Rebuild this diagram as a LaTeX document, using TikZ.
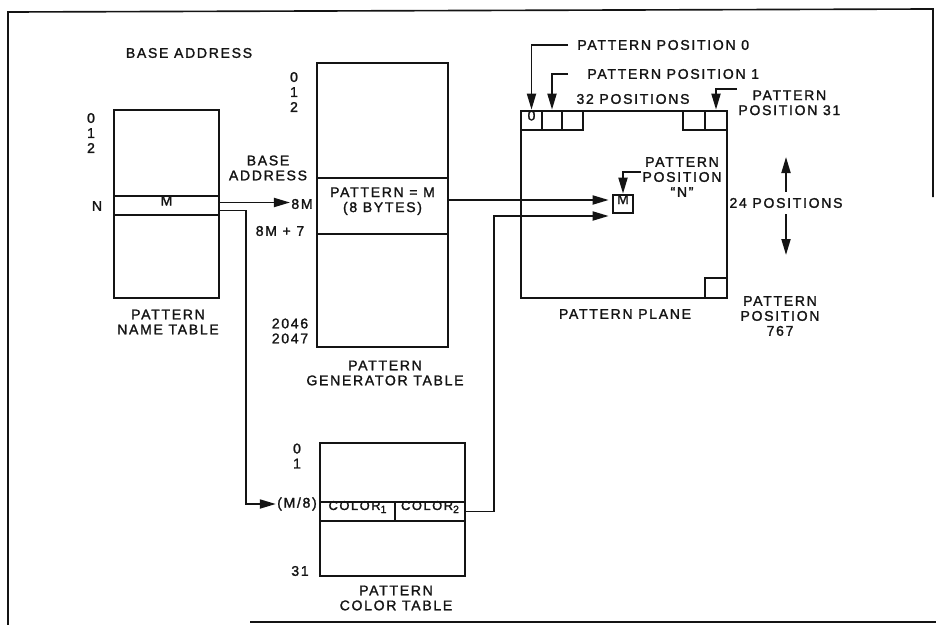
\documentclass[tikz,border=0pt]{standalone}
\usepackage{fontspec}
\setmainfont{Liberation Sans}[LetterSpace=12, FakeBold=1.5]
\usepackage{tikz}
\usetikzlibrary{arrows.meta, positioning, calc, fit}
\definecolor{ink}{HTML}{141414}
\newcommand{\colsub}[1]{\raisebox{-0.45ex}{\fontsize{9}{9}\selectfont #1}}
\tikzset{
  tbl/.style   = {draw=ink, line width=2.3pt, rectangle, inner sep=0pt,
                  font=\fontsize{12}{12.8}\selectfont, text=ink, align=center},
  slot/.style  = {tbl, fill=white},
  cellc/.style = {slot, font=\fontsize{11}{12}\selectfont},
  lbl/.style   = {font=\fontsize{12}{12.8}\selectfont, text=ink, align=center, inner sep=1pt},
  ptr/.style   = {-{Triangle[length=4.8mm, width=2.7mm]}, draw=ink, line width=1.6pt},
  frame/.style = {draw=ink, line width=1.4pt},
}

\begin{document}
\begin{tikzpicture}[x=0.3mm, y=-0.3mm]
  \useasboundingbox (0,0) rectangle (936,625);
  \draw[frame] (8,625) -- (8,12) -- (933,9) -- (933,197);
  \draw[frame] (250,622) -- (936,622);

  \node[lbl] (baseaddr) at (189,53) {BASE ADDRESS};

  \node[tbl, fit={(114,110) (219,298)}] (nametab) {};
  \node[slot, fit={(114,196) (219,215)}] (namerow) {M};
  \node[lbl] (nameidx) at (91,133) {0\\1\\2};
  \node[lbl] (labn) at (97,206) {N};
  \node[lbl] (namecap) at (168,322) {PATTERN\\NAME TABLE};

  \node[tbl, fit={(317,63) (448,347)}] (gentab) {};
  \node[slot, fit={(317,178) (448,234)}] (genrow) {PATTERN = M\\(8 BYTES)};
  \node[lbl] (genidx) at (294,92) {0\\1\\2};
  \node[lbl] (genbase) at (268,168) {BASE\\ADDRESS};
  \node[lbl] (lab8m) at (302,204) {8M};
  \node[lbl] (lab8m7) at (280,231) {8M + 7};
  \node[lbl] (genend) at (290,331) {2046\\2047};
  \node[lbl] (gencap) at (385,373) {PATTERN\\GENERATOR TABLE};

  \node[tbl, fit={(320,443) (465,576)}] (coltab) {};
  \node[cellc, fit={(320,502) (395,521)}] (colrow1) {COLOR\colsub{1}};
  \node[cellc, fit={(395,502) (465,521)}] (colrow2) {COLOR\colsub{2}};
  \node[lbl] (colidx) at (297,456) {0\\1};
  \node[lbl] (labm8) at (297,504) {(M/8)};
  \node[lbl] (colend) at (300,571) {31};
  \node[lbl] (colcap) at (396,598) {PATTERN\\COLOR TABLE};

  \node[tbl, fit={(521,111) (727,298)}] (plane) {};
  \node[slot, fit={(521,111) (542,130)}] (c0) {0};
  \node[slot, fit={(542,111) (562,130)}] (c1) {};
  \node[slot, fit={(562,111) (583,130)}] (c2) {};
  \node[slot, fit={(683,111) (705,130)}] (c30) {};
  \node[slot, fit={(705,111) (727,130)}] (c31) {};
  \node[slot, fit={(705,278) (727,298)}] (c767) {};
  \node[slot, fit={(613,195) (633,213)}] (mbox) {M};
  \node[lbl] (planecap) at (625,314) {PATTERN PLANE};
  \node[lbl] (pos32) at (633,99) {32 POSITIONS};

  \node[lbl, anchor=west] (pp0) at (576,45) {PATTERN POSITION 0};
  \node[lbl, anchor=west] (pp1) at (586,74) {PATTERN POSITION 1};
  \node[lbl, anchor=north west] (pp31) at (737,89) {PATTERN\\POSITION 31};
  \node[lbl] (ppN) at (682,177) {PATTERN\\POSITION\\``N''};
  \node[lbl] (pp767) at (780,316) {PATTERN\\POSITION\\767};
  \node[lbl] (pos24) at (786,203) {24 POSITIONS};

  \coordinate (callx) at (568,0);
  \draw[ptr] (pp0.west -| callx) -| (c0.north);
  \draw[ptr] (pp1.west -| callx) -| (c1.north);
  \draw[ptr] (pp31.north west) -| (c31.north);
  \draw[ptr] ($(ppN.west)+(0,-5)$) -| (mbox.north);

  \coordinate (up24) at (786,157);
  \coordinate (dn24) at (786,255);
  \draw[ptr] ([yshift=1.5mm]pos24.north) -- (up24);
  \draw[ptr] ([yshift=-1.5mm]pos24.south) -- (dn24);

  \coordinate (n1) at ($(namerow.east)+(0,-3)$);
  \coordinate (n2) at ($(namerow.east)+(0,5)$);
  \coordinate (bend1) at (246,0);
  \draw[ptr] (n1) -- (n1 -| lab8m.west);
  \draw[ptr] (n2) -- (n2 -| bend1) -- (bend1 |- labm8) -- (labm8.west);

  \coordinate (tip1) at ($(mbox.west)+(-3,-4)$);
  \coordinate (tip2) at ($(mbox.west)+(-3,12)$);
  \coordinate (bend2) at (494,0);
  \draw[ptr] (genrow.east |- tip1) -- (tip1);
  \draw[ptr] (colrow2.east) -- (colrow2.east -| bend2) -- (bend2 |- tip2) -- (tip2);
\end{tikzpicture}
\end{document}
